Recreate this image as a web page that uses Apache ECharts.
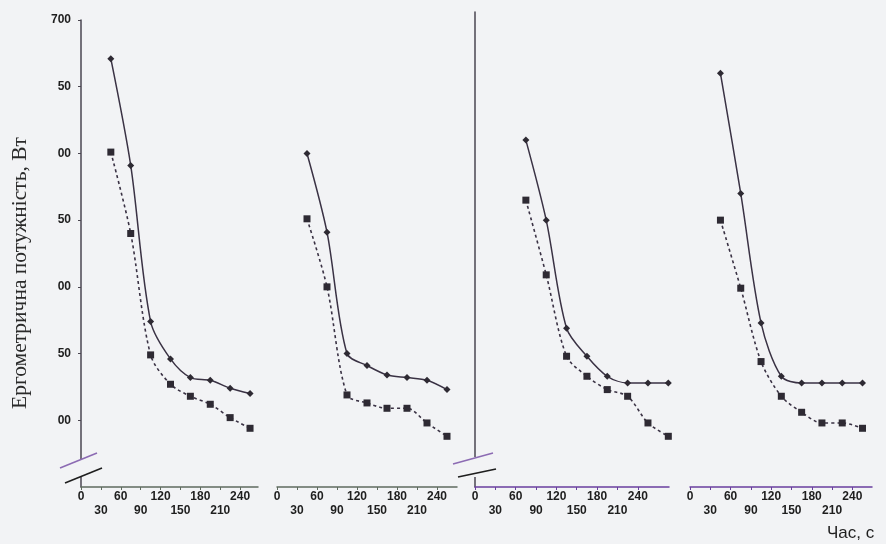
<!DOCTYPE html>
<html><head><meta charset="utf-8">
<script src="https://cdn.jsdelivr.net/npm/echarts@6/dist/echarts.min.js"></script>
<style>html,body{margin:0;padding:0;background:#f2f3f5}#c{width:886px;height:544px}</style>
</head><body><div id="c"></div>
<script>
// tick values / labels
const xTicks = [0, 30, 60, 90, 120, 150, 180, 210, 240];
const yTicks = [400, 450, 500, 550, 600, 650, 700];
const yTickLabels = ['00', '50', '00', '50', '00', '50', '700'];
const yName = 'Ергометрична потужність, Вт';
const xName = 'Час, с';

// time positions (s)
const timeA = [45, 75, 105, 135, 165, 195, 225, 255];
const timeB = [75, 105, 135, 165, 195, 225, 255, 285];

// power values (W)
const p1Solid  = [671, 591, 474, 446, 432, 430, 424, 420];
const p1Dashed = [601, 540, 449, 427, 418, 412, 402, 394];
const p2Solid  = [600, 541, 450, 441, 434, 432, 430, 423];
const p2Dashed = [551, 500, 419, 413, 409, 409, 398, 388];
const p3Solid  = [610, 550, 469, 448, 433, 428, 428, 428];
const p3Dashed = [565, 509, 448, 433, 423, 418, 398, 388];
const p4Solid  = [660, 570, 473, 433, 428, 428, 428, 428];
const p4Dashed = [550, 499, 444, 418, 406, 398, 398, 394];

const BG = '#f2f3f5';
const panels = [
  {left: 81,  width: 177, max: 267, top: 20, height: 467, ymax: 700, xColor: '#5f6b5f', yMode: 'labels', time: timeA, solid: p1Solid, dashed: p1Dashed},
  {left: 277, width: 180, max: 270, top: 20, height: 467, ymax: 700, xColor: '#5f6b5f', yMode: 'none',   time: timeA, solid: p2Solid, dashed: p2Dashed},
  {left: 475, width: 194, max: 286, top: 12, height: 475, ymax: 706, xColor: '#6a3f9e', yMode: 'line',   time: timeB, solid: p3Solid, dashed: p3Dashed},
  {left: 690, width: 182, max: 269, top: 20, height: 467, ymax: 700, xColor: '#6a3f9e', yMode: 'none',   time: timeA, solid: p4Solid, dashed: p4Dashed}
];

const labelFont = 'Liberation Sans Narrow, Liberation Sans, Arial, sans-serif';
const grids = [], xAxes = [], yAxes = [], series = [];
panels.forEach((p, i) => {
  grids.push({left: p.left, top: p.top, width: p.width, height: p.height, containLabel: false});
  xAxes.push({
    type: 'value', gridIndex: i, min: 0, max: p.max,
    axisLine: {show: true, lineStyle: {color: p.xColor, width: 1.5}},
    axisTick: {show: true, length: 3, customValues: xTicks, lineStyle: {color: p.xColor}},
    splitLine: {show: false},
    axisLabel: {
      customValues: xTicks, margin: 3, fontSize: 12, lineHeight: 14,
      fontFamily: labelFont, color: '#1e1e1e', fontWeight: 'bold',
      formatter: v => ((v / 30) % 2 === 1 ? '\n' + v : '' + v)
    }
  });
  const showLine = p.yMode !== 'none';
  yAxes.push({
    type: 'value', gridIndex: i, min: 350, max: p.ymax, show: showLine,
    axisLine: {show: showLine, lineStyle: {color: '#4a4650', width: 1.5}},
    axisTick: {show: p.yMode === 'labels', customValues: yTicks, length: 3, lineStyle: {color: '#4a4650'}},
    splitLine: {show: false},
    axisLabel: {
      show: p.yMode === 'labels', customValues: yTicks, margin: 10, fontSize: 12,
      fontFamily: labelFont, color: '#1e1e1e', fontWeight: 'bold',
      formatter: v => yTickLabels[yTicks.indexOf(v)] || ''
    }
  });
  series.push({
    type: 'line', xAxisIndex: i, yAxisIndex: i, smooth: 0.3,
    data: p.time.map((t, k) => [t, p.solid[k]]),
    symbol: 'diamond', symbolSize: 7,
    lineStyle: {color: '#3a3244', width: 1.5},
    itemStyle: {color: '#2e2a33'}
  });
  series.push({
    type: 'line', xAxisIndex: i, yAxisIndex: i, smooth: 0.3,
    data: p.time.map((t, k) => [t, p.dashed[k]]),
    symbol: 'rect', symbolSize: 7,
    lineStyle: {color: '#3a3244', width: 1.6, type: [3, 3]},
    itemStyle: {color: '#2e2a33'}
  });
});

const chart = echarts.init(document.getElementById('c'), null, {renderer: 'canvas'});
chart.setOption({
  backgroundColor: BG, animation: false,
  grid: grids, xAxis: xAxes, yAxis: yAxes, series: series
});

function brk(o, up, low, gap) {
  return [
    {type: 'rect', shape: {x: o[0] - 3, y: o[1] - gap[0], width: 6, height: gap[0] - gap[1]}, style: {fill: BG}, z: 100},
    {type: 'line', shape: {x1: o[0] + up[0], y1: o[1] + up[1], x2: o[0] + up[2], y2: o[1] + up[3]}, style: {stroke: '#8c6bb3', lineWidth: 1.6}, z: 101},
    {type: 'line', shape: {x1: o[0] + low[0], y1: o[1] + low[1], x2: o[0] + low[2], y2: o[1] + low[3]}, style: {stroke: '#1e1e1e', lineWidth: 1.6}, z: 101}
  ];
}
const o1 = chart.convertToPixel({gridIndex: 0}, [0, 350]);
const o3 = chart.convertToPixel({gridIndex: 2}, [0, 350]);
const g = [].concat(
  brk(o1, [-21, -19, 16, -34], [-16, -4, 21, -19], [28, 11]),
  brk(o3, [-22, -23, 18, -34], [-17, -10, 21, -18], [30, 10]),
  [
    {type: 'text', x: 20, y: 273, rotation: Math.PI / 2,
     style: {text: yName, fontSize: 21.5, fontFamily: 'Liberation Serif, serif', fill: '#2a2a2a', align: 'center', verticalAlign: 'middle'}},
    {type: 'text', x: 827, y: 533,
     style: {text: xName, fontSize: 17, fontFamily: 'Liberation Sans, Arial, sans-serif', fill: '#1e1e1e', align: 'left', verticalAlign: 'middle'}}
  ]
);
chart.setOption({graphic: g});
</script></body></html>
